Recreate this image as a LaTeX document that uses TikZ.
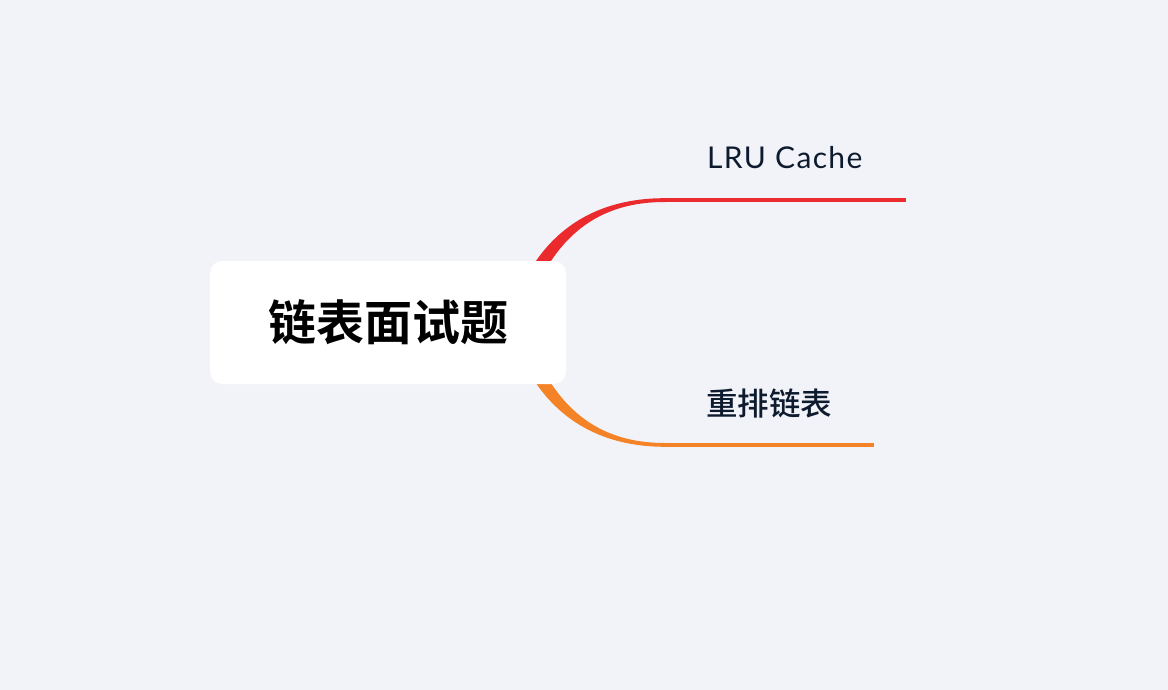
\documentclass[tikz,border=0pt]{standalone}
\usepackage{fontspec}
\setmainfont{Lato}
\newfontfamily\latowide{Lato}[LetterSpace=4.5]
\newfontfamily\cjkb{Noto Sans CJK SC Bold}
\newfontfamily\cjkm{Noto Sans CJK SC Medium}
\definecolor{bg}{HTML}{F1F3F8}
\definecolor{cred}{HTML}{EA2A2D}
\definecolor{corange}{HTML}{F38326}
\definecolor{txt}{HTML}{0E1B2F}
\begin{document}
\begin{tikzpicture}[x=1pt,y=-1pt,
  rootbox/.style={fill=white,rounded corners=12pt,inner sep=0pt,minimum width=356pt,minimum height=123pt,
    font=\cjkb\fontsize{48}{48}\selectfont,text=black},
  leaf/.style={anchor=west,inner sep=0pt,text=txt}]
\useasboundingbox (0,0) rectangle (1168,690);
\fill[bg] (0,0) rectangle (1168,690);
% connectors (tapered curves)
\coordinate (r1) at (515,322);
\coordinate (e1) at (665,200);
\coordinate (t1) at (906,200);
\coordinate (e2) at (665,445);
\coordinate (t2) at (874,445);
\fill[cred] (509,320) .. controls (533,236) and (590,198) .. (665,198.2)
  -- (665,202) .. controls (591,202) and (548,243) .. (522,324) -- cycle;
\draw[cred,line width=3.5pt] (e1) -- (t1);
\fill[corange] (509,324) .. controls (533,408) and (590,446.8) .. (665,446.8)
  -- (665,443) .. controls (591,443) and (548,401) .. (522,320) -- cycle;
\draw[corange,line width=3.5pt] (e2) -- (t2);
% root
\node[rootbox] (root) at (388,322.5) {链表面试题};
% leaves
\node[leaf,anchor=base west,font=\latowide\fontsize{30}{30}\selectfont] (lru) at (707,168.5) {LRU Cache};
\node[leaf,font=\cjkm\fontsize{31.5}{31.5}\selectfont] (reorder) at (706,403) {重排链表};
\end{tikzpicture}
\end{document}
